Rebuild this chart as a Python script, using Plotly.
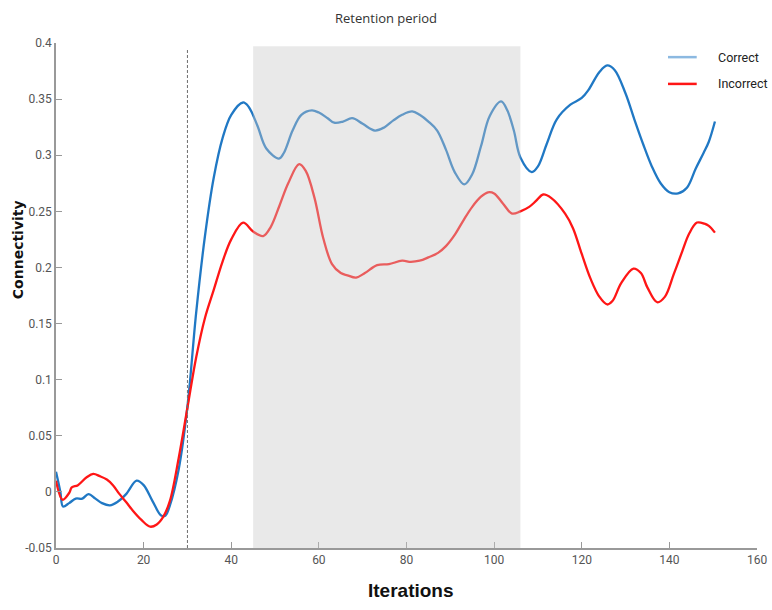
import plotly.graph_objects as go

# Connectivity over iterations for correct and incorrect trials
correct_x = [0, 1, 1.6, 3, 4.5, 6, 7.4, 9, 10.5, 12.3, 14, 16, 18.4, 20, 22, 24, 25,
             26, 28, 30, 32, 34, 36, 38, 40, 42.7, 44, 46, 48, 50.9, 52, 54, 56, 58.4,
             60, 62, 63.5, 65.5, 67.6, 70, 72.8, 75, 77, 79, 81.3, 83, 85, 87, 89, 91,
             93.2, 95, 97, 99, 101.6, 103, 104.5, 106, 108.6, 110, 112, 114.3, 117.4,
             120, 121.5, 124, 125.8, 127.5, 130, 132, 134, 136, 138, 140, 142, 144, 146,
             147.8, 149, 150.4]
correct_y = [0.018, 0.0, -0.013, -0.010, -0.006, -0.006, -0.002, -0.006, -0.010, -0.012,
             -0.009, -0.002, 0.010, 0.006, -0.008, -0.021, -0.021,
             -0.012, 0.020, 0.076, 0.160, 0.228, 0.280, 0.315, 0.336, 0.347, 0.343, 0.326,
             0.306, 0.297, 0.302, 0.322, 0.336, 0.340,
             0.338, 0.333, 0.329, 0.330, 0.333, 0.328, 0.322, 0.325, 0.331, 0.336, 0.339,
             0.336, 0.330, 0.322, 0.305, 0.285,
             0.274, 0.283, 0.308, 0.335, 0.348, 0.340, 0.322, 0.298, 0.285, 0.290, 0.310,
             0.332, 0.345,
             0.351, 0.358, 0.374, 0.380, 0.376, 0.355, 0.332, 0.310, 0.290, 0.275, 0.267,
             0.266, 0.271, 0.288,
             0.302, 0.312, 0.330]

incorrect_x = [0, 1.5, 3, 3.6, 5, 7, 8.5, 10, 11.6, 13, 14.5, 16, 17.6, 19.5, 21.5, 23,
               24.5, 26, 28, 30, 32, 34, 36, 38, 40, 42.7, 45, 47.3, 49, 51, 53, 55.5,
               57, 59, 61, 63, 65, 66.5, 68.5, 70.5, 73.3, 76, 79, 81, 83, 85, 87.2, 89,
               91, 93, 95, 97, 98.6, 100, 102, 104.1, 106, 108, 109.5, 111.2, 113, 116.2,
               118, 120, 122, 124, 125.8, 127, 129, 131.8, 133.5, 135, 137.2, 139, 141,
               143, 144.5, 146.3, 148, 149, 150.4]
incorrect_y = [0.010, -0.007, -0.001, 0.004, 0.006, 0.013, 0.016, 0.014, 0.011, 0.006,
               -0.002, -0.009, -0.017, -0.025, -0.031, -0.029,
               -0.022, -0.008, 0.030, 0.075, 0.120, 0.155, 0.180, 0.205, 0.225, 0.240,
               0.232, 0.228, 0.236, 0.255, 0.275, 0.292,
               0.286, 0.262, 0.226, 0.203, 0.195, 0.193, 0.191, 0.195, 0.202, 0.203, 0.206,
               0.205, 0.206, 0.209, 0.213, 0.219,
               0.229, 0.242, 0.254, 0.263, 0.267, 0.266, 0.257, 0.248, 0.250, 0.254, 0.259,
               0.265, 0.262, 0.248,
               0.235, 0.212, 0.190, 0.174, 0.167, 0.170, 0.186, 0.199, 0.195, 0.182, 0.169,
               0.174, 0.194,
               0.215, 0.230, 0.240, 0.239, 0.237, 0.231]

series_names = ["Correct", "Incorrect"]
line_colors = ["rgb(32,120,196)", "rgb(255,22,22)"]
legend_colors = ["rgb(140,185,225)", "rgb(255,22,22)"]

retention_start, retention_end = 45, 106
cue_iteration = 30

x_ticks = [0, 20, 40, 60, 80, 100, 120, 140, 160]
y_ticks = [-0.05, 0, 0.05, 0.1, 0.15, 0.2, 0.25, 0.3, 0.35, 0.4]
y_tick_text = ["-0.05", "0", "0.05", "0.1", "0.15", "0.2", "0.25", "0.3", "0.35", "0.4"]

fig = go.Figure()

for xs, ys, col, name in [(correct_x, correct_y, line_colors[0], series_names[0]),
                          (incorrect_x, incorrect_y, line_colors[1], series_names[1])]:
    fig.add_trace(go.Scatter(x=xs, y=ys, mode="lines", name=name, showlegend=False,
                             line=dict(color=col, width=2.3, shape="spline", smoothing=1.0)))

# retention period shading, drawn over the curves
fig.add_shape(type="rect", xref="x", yref="y", x0=retention_start, x1=retention_end,
              y0=-0.05, y1=0.397, fillcolor="rgb(200,200,200)", opacity=0.4,
              line=dict(width=0), layer="above")

# cue marker
fig.add_shape(type="line", xref="x", yref="y", x0=cue_iteration, x1=cue_iteration,
              y0=-0.05, y1=0.395, line=dict(color="rgb(110,110,110)", width=1, dash="3px,2px"),
              layer="above")

# legend: short line sample followed by its label
legend_rows = [0.972, 0.919]
for name, col, ly in zip(series_names, legend_colors, legend_rows):
    fig.add_shape(type="line", xref="paper", yref="paper", x0=0.873, x1=0.914, y0=ly, y1=ly,
                  line=dict(color=col, width=2.5))
    fig.add_annotation(xref="paper", yref="paper", x=0.941, y=ly, xanchor="left",
                       yanchor="middle", text=name, showarrow=False,
                       font=dict(family="Roboto", size=12.5, color="#222"))

# axis titles
fig.add_annotation(xref="paper", yref="paper", x=0.506, y=-0.085, xanchor="center",
                   yanchor="middle", text="<b>Iterations</b>", showarrow=False,
                   font=dict(family="Liberation Sans", size=19, color="#111"))
fig.add_annotation(xref="paper", yref="paper", x=-0.054, y=0.59, xanchor="center",
                   yanchor="middle", text="<b>Connectivity</b>", showarrow=False,
                   textangle=-90, font=dict(family="DejaVu Sans", size=14, color="#111"))

fig.update_layout(
    width=772, height=610,
    margin=dict(l=56, r=15, t=43, b=62),
    paper_bgcolor="white", plot_bgcolor="white",
    showlegend=False,
    title=dict(text="Retention period", x=0.5, xanchor="center", y=0.97, yanchor="middle",
               font=dict(family="Open Sans", size=13, color="#333")),
    font=dict(family="Roboto", color="#555"),
)

fig.update_xaxes(range=[0, 160], tickvals=x_ticks, showgrid=False, zeroline=False,
                 showline=True, linecolor="#999", linewidth=1.5, automargin=False,
                 ticks="inside", ticklen=6, tickcolor="#999", tickwidth=1,
                 tickfont=dict(family="Roboto", size=12, color="#555"))

fig.update_yaxes(range=[-0.05, 0.4], tickvals=y_ticks, ticktext=y_tick_text, showgrid=False,
                 zeroline=False, showline=True, linecolor="#999", linewidth=1.5,
                 automargin=False, ticks="inside", ticklen=6, tickcolor="#999", tickwidth=1,
                 tickfont=dict(family="Roboto", size=12, color="#555"))

fig.write_html("out.html")
